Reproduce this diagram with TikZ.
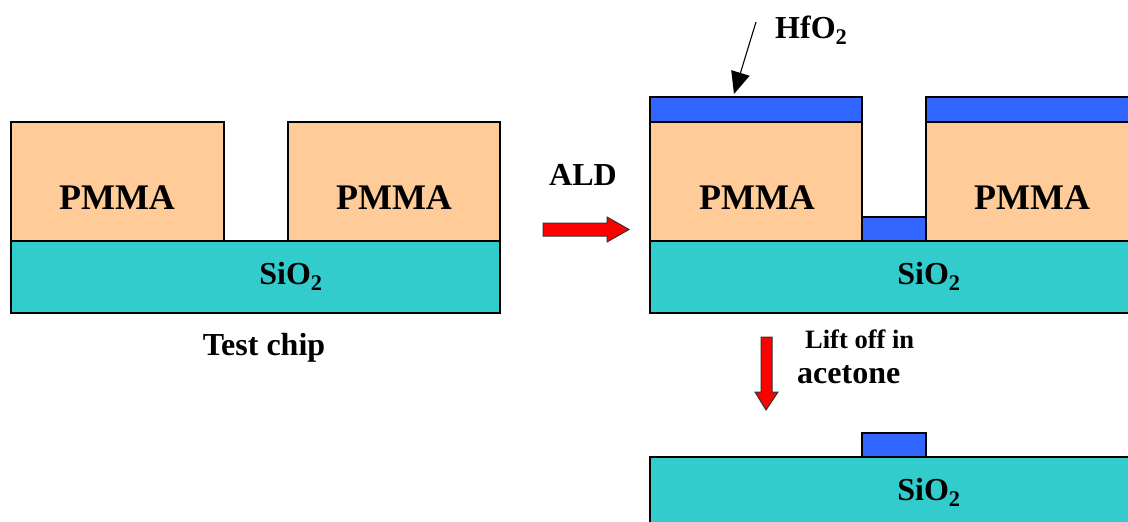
\documentclass[tikz,border=0pt]{standalone}
\usepackage{fontspec}
\setmainfont{Liberation Serif}
\usetikzlibrary{arrows.meta}
\definecolor{pmmac}{HTML}{FFCC99}
\definecolor{sioc}{HTML}{33CCCC}
\definecolor{hfoc}{HTML}{3366FF}
\definecolor{redc}{HTML}{FF0000}
\begin{document}
\begin{tikzpicture}[x=1pt,y=-1pt,
  layer/.style={draw=black,line width=1.3pt,inner sep=0pt,anchor=north west,outer sep=0pt},
  pmmabox/.style={layer,fill=pmmac},
  siobox/.style={layer,fill=sioc},
  hfobox/.style={layer,fill=hfoc},
  bigtxt/.style={font=\fontsize{36}{40}\selectfont\bfseries,inner sep=0pt},
  txt/.style={font=\fontsize{32}{36}\selectfont\bfseries,inner sep=0pt},
  smalltxt/.style={font=\fontsize{26.5}{30}\selectfont\bfseries,inner sep=0pt},
  redarrow/.style={fill=redc,draw=black!80,line width=1pt,line join=miter}
]
\path[use as bounding box] (0,0) rectangle (1128,522);
\clip (0,0) rectangle (1128,522);
% ---------- left: test chip ----------
\node[siobox,minimum width=489pt,minimum height=72pt] (sioL) at (11,241) {};
\node[pmmabox,minimum width=213pt,minimum height=119pt] (pmL1) at (11,122) {};
\node[pmmabox,minimum width=212pt,minimum height=119pt] (pmL2) at (288,122) {};
\node[bigtxt] (tpmL1) at (117,198) {PMMA};
\node[bigtxt] (tpmL2) at (394,198) {PMMA};
\node[txt,anchor=base] (tsioL) at (291,284) {SiO\textsubscript{2}};
\node[txt,anchor=base] (tchip) at (264,355) {Test chip};
% ---------- ALD arrow ----------
\node[txt,anchor=base] (tald) at (583,185) {ALD};
\draw[redarrow] (543,223) -- (607,223) -- (607,217) -- (629,229.5) -- (607,242) -- (607,236) -- (543,236) -- cycle;
% ---------- right: after ALD ----------
\node[siobox,minimum width=489pt,minimum height=72pt] (sioR) at (650,241) {};
\node[pmmabox,minimum width=212pt,minimum height=119pt] (pmR1) at (650,122) {};
\node[pmmabox,minimum width=212pt,minimum height=119pt] (pmR2) at (926,122) {};
\node[hfobox,minimum width=212pt,minimum height=25pt] (hfR1) at (650,97) {};
\node[hfobox,minimum width=212pt,minimum height=25pt] (hfR2) at (926,97) {};
\node[hfobox,minimum width=64pt,minimum height=24pt] (hfR3) at (862,217) {};
\node[bigtxt] (tpmR1) at (757,198) {PMMA};
\node[bigtxt] (tpmR2) at (1032,198) {PMMA};
\node[txt,anchor=base] (tsioR) at (929,284) {SiO\textsubscript{2}};
\node[txt,anchor=base west] (thfo) at (775,38) {HfO\textsubscript{2}};
\coordinate (hfstart) at (756,22);
\coordinate (hftip) at (734,94);
\draw[line width=1.1pt,-{Triangle[length=22pt,width=19pt]}] (hfstart) -- (hftip);
% ---------- lift off arrow ----------
\draw[redarrow] (761,337) -- (772,337) -- (772,392) -- (778,392) -- (766,410) -- (755,392) -- (761,392) -- cycle;
\node[smalltxt,anchor=base west] (tlift) at (805,348) {Lift off in};
\node[txt,anchor=base west] (tacet) at (797,383) {acetone};
% ---------- bottom: after lift off ----------
\node[siobox,minimum width=489pt,minimum height=80pt] (sioB) at (650,457) {};
\node[hfobox,minimum width=64pt,minimum height=24pt] (hfB) at (862,433) {};
\node[txt,anchor=base] (tsioB) at (929,500) {SiO\textsubscript{2}};
\end{tikzpicture}
\end{document}
